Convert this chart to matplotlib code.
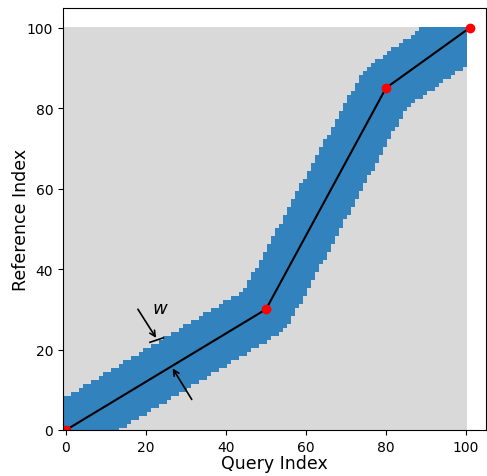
import numpy as np
import matplotlib
matplotlib.use("Agg")
import matplotlib.pyplot as plt
from matplotlib.colors import ListedColormap

# warping path (query index, reference index)
path_query = [0, 50, 80, 101]
path_ref = [0, 30, 85, 100]
window = 7   # half-width of the band around the path
n_query = 101
n_ref = 101


def dist_to_path(px, py, xs, ys):
    best = np.full(px.shape, np.inf)
    for k in range(len(xs) - 1):
        x0, y0, x1, y1 = xs[k], ys[k], xs[k + 1], ys[k + 1]
        dx, dy = x1 - x0, y1 - y0
        t = ((px - x0) * dx + (py - y0) * dy) / (dx * dx + dy * dy)
        t = np.clip(t, 0, 1)
        d = np.hypot(px - (x0 + t * dx), py - (y0 + t * dy))
        best = np.minimum(best, d)
    return best


qq, rr = np.meshgrid(np.arange(n_query), np.arange(n_ref))
mask = (dist_to_path(qq, rr, path_query, path_ref) <= window).astype(float)

fig = plt.figure(figsize=(4.87, 4.77), dpi=100)
ax = fig.add_axes([63 / 487, 46 / 477, 423 / 487, 422.5 / 477])

cmap = ListedColormap(["#d9d9d9", "#3182bd"])
ax.imshow(mask, origin="lower", cmap=cmap, interpolation="nearest",
          extent=[-0.75, 100.25, -0.5, 100], aspect="auto")
ax.plot(path_query, path_ref, color="black", lw=1.5)
ax.plot(path_query, path_ref, "o", color="red", ms=6)

# window width annotation
ax.annotate("", xy=(22.9, 22.3), xytext=(17.6, 30.6),
            arrowprops=dict(arrowstyle="->", color="black", lw=1.2))
ax.plot([21.0, 24.3], [21.8, 22.9], color="black", lw=1.2)
ax.text(21.5, 29.0, "$w$", fontsize=13)
ax.annotate("", xy=(26.3, 15.9), xytext=(31.8, 7.0),
            arrowprops=dict(arrowstyle="->", color="black", lw=1.2))

ax.set_xlim(-0.75, 105)
ax.set_ylim(0, 105)
ax.set_xticks([0, 20, 40, 60, 80, 100])
ax.set_yticks([0, 20, 40, 60, 80, 100])
ax.set_xlabel("Query Index", fontsize=12.5, labelpad=0)
ax.set_ylabel("Reference Index", fontsize=12.5, labelpad=-2)

fig.savefig("out.png", dpi=100)
